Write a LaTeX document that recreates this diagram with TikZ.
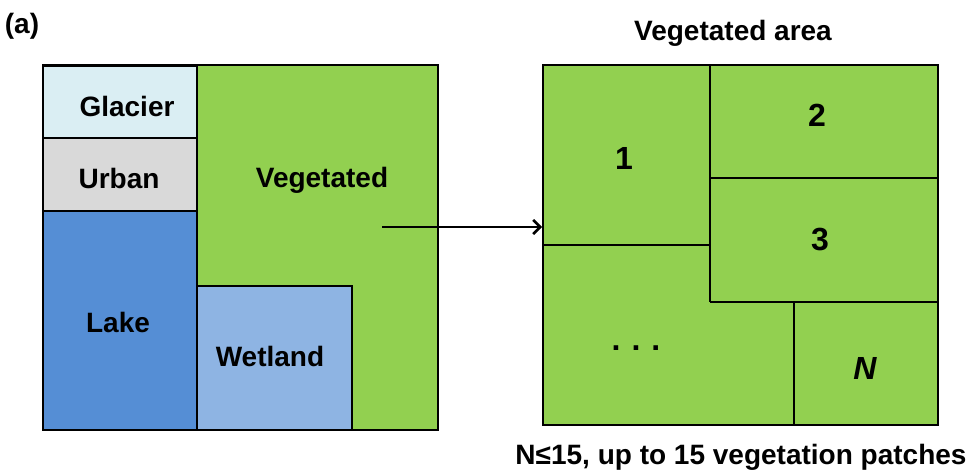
\documentclass[tikz,border=0pt]{standalone}
\usepackage{fontspec}
\setmainfont{Liberation Sans}
\usetikzlibrary{arrows.meta}
\definecolor{vegcol}{HTML}{92D050}
\definecolor{glaciercol}{HTML}{DAEEF3}
\definecolor{urbancol}{HTML}{D9D9D9}
\definecolor{lakecol}{HTML}{558ED5}
\definecolor{wetcol}{HTML}{8EB4E3}
\tikzset{
  lbl/.style={font=\fontsize{28}{30}\selectfont\bfseries, inner sep=0pt},
  numlbl/.style={font=\fontsize{32}{34}\selectfont\bfseries, inner sep=0pt},
  cell/.style={draw=black, line width=1.2pt},
  frame/.style={draw=black, line width=2.6pt},
}
\begin{document}
\begin{tikzpicture}[x=1pt,y=-1pt]
\useasboundingbox (0,0) rectangle (972,472);

% ---- land-cover tile ----
\fill[vegcol] (43,65) rectangle (438,430);
\draw[cell, fill=glaciercol, line width=2pt] (43,66) rectangle (197,138);
\draw[cell, fill=urbancol] (43,138) rectangle (197,211);
\draw[cell, fill=lakecol] (43,211) rectangle (197,430);
\draw[cell, fill=wetcol] (197,286) rectangle (352,430);
\draw[cell] (197,66) -- (197,211);
\draw[frame] (43,65) rectangle (438,430);

\node[lbl] (glacier) at (127,106) {Glacier};
\node[lbl] (urban) at (119,178) {Urban};
\node[lbl] (vegetated) at (322,180) {Vegetated};
\node[lbl] (lake) at (118,322) {Lake};
\node[lbl] (wetland) at (270,356) {Wetland};
\node[lbl] (panel) at (22,26) {(a)};

% ---- vegetated area split into patches ----
\fill[vegcol] (543,65) rectangle (938,425);
\draw[cell] (710,65) -- (710,302);
\draw[cell] (710,178) -- (938,178);
\draw[cell] (543,245) -- (710,245);
\draw[cell] (710,302) -- (938,302);
\draw[cell] (794,302) -- (794,425);
\draw[frame] (543,65) rectangle (938,425);

\node[lbl] (title) at (733,33) {Vegetated area};
\node[numlbl] (p1) at (624,158) {1};
\node[numlbl] (p2) at (817,115) {2};
\node[numlbl] (p3) at (820,240) {3};
\node[numlbl] (pdots) at (636,348) {.\hspace{11pt}.\hspace{11pt}.};
\node[numlbl, font=\fontsize{32}{34}\selectfont\bfseries\itshape] (pN) at (865,368) {N};
\node[lbl] (note) at (741,457) {N≤15, up to 15 vegetation patches};

% ---- connector ----
\coordinate (arrowstart) at (382,227);
\coordinate (arrowend) at (542,227);
\draw[line width=2.6pt, -{Straight Barb[length=7pt,width=14pt,line width=2.6pt]}] (arrowstart) -- (arrowend);
\end{tikzpicture}
\end{document}
